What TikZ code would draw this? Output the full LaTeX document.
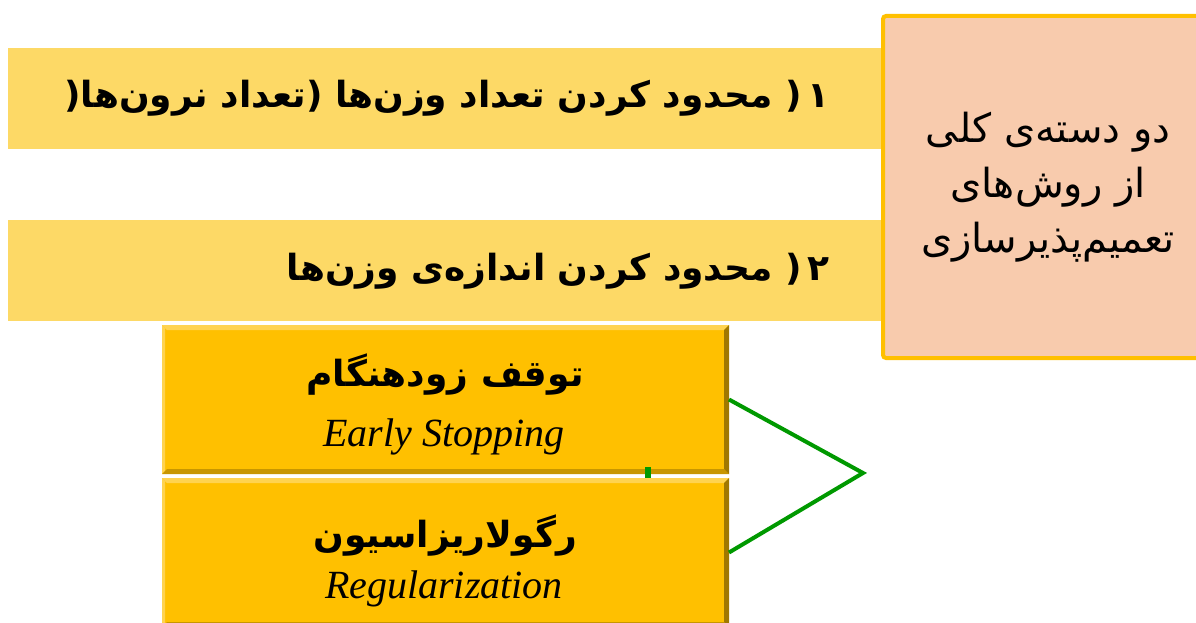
\documentclass[tikz,border=0pt]{standalone}
\usepackage{fontspec}
\setmainfont{Liberation Serif}
\newfontfamily\fa[Script=Arabic]{DejaVu Sans}
\TeXXeTstate=1
\usetikzlibrary{calc}

\definecolor{bandfill}{RGB}{253,217,102}
\definecolor{goldfill}{RGB}{255,192,0}
\definecolor{goldlight}{RGB}{255,211,80}
\definecolor{golddark}{RGB}{160,120,0}
\definecolor{goldmid}{RGB}{200,150,0}
\definecolor{peach}{RGB}{248,203,173}
\definecolor{linkgreen}{RGB}{0,153,0}

\tikzset{
  band/.style={fill=bandfill, draw=none, inner sep=0pt, outer sep=0pt, anchor=north west},
  goldbox/.style={fill=goldfill, draw=none, inner sep=0pt, outer sep=0pt, anchor=north west,
    minimum width=567pt, minimum height=149pt},
  catbox/.style={fill=peach, draw=goldfill, line width=4pt, rounded corners=3pt,
    inner sep=0pt, anchor=north west, align=center},
  bandtext/.style={anchor=base east, inner sep=0pt, font=\fa\bfseries\fontsize{36}{40}\selectfont},
  fatext/.style={anchor=base, inner sep=0pt, font=\fa\bfseries\fontsize{36}{40}\selectfont},
  entext/.style={anchor=base, inner sep=0pt, font=\itshape\fontsize{40}{44}\selectfont},
  conn/.style={draw=linkgreen, line width=4pt},
}

\begin{document}
\begin{tikzpicture}[x=1pt,y=-1pt]
\clip (0,0) rectangle (1196,623);
\fill[white] (0,0) rectangle (1196,623);

% the two light bands with the method families
\node[band, minimum width=873pt, minimum height=101pt] (band1) at (8,48) {};
\node[band, minimum width=873pt, minimum height=101pt] (band2) at (8,220) {};
\node[bandtext] (band1text) at (830,108)
  {\beginR ۱\,\hbox{(}\ محدود کردن تعداد وزن‌ها \hbox{(}تعداد نرون‌ها\hbox{(}\endR};
\node[bandtext] (band2text) at (830,280)
  {\beginR ۲\,\hbox{(}\ محدود کردن اندازه‌ی وزن‌ها\endR};

% category box on the right
\node[catbox, minimum width=330pt, minimum height=342pt,
      font=\fa\fontsize{40}{55}\selectfont] (cat) at (881,14)
  {\beginR دو دسته‌ی کلی\endR\\ \beginR از روش‌های\endR\\ \beginR تعمیم‌پذیرسازی\endR};

% bevelled gold boxes
\node[goldbox] (early) at (162,325) {};
\node[goldbox] (reg) at (162,478) {};
\foreach \b in {early,reg}{
  \fill[goldlight] (\b.north west) -- (\b.north east) -- ($(\b.north east)+(-5,5)$)
    -- ($(\b.north west)+(5,5)$) -- cycle;
  \fill[goldlight] (\b.north west) -- (\b.south west) -- ($(\b.south west)+(3,-3)$)
    -- ($(\b.north west)+(3,3)$) -- cycle;
  \fill[goldmid] (\b.south west) -- (\b.south east) -- ($(\b.south east)+(-5,-5)$)
    -- ($(\b.south west)+(5,-5)$) -- cycle;
  \fill[golddark] (\b.north east) -- (\b.south east) -- ($(\b.south east)+(-5,-5)$)
    -- ($(\b.north east)+(-5,5)$) -- cycle;
}
\node[fatext] (earlyfa) at (445,386) {\beginR توقف زودهنگام\endR};
\node[entext] (earlyen) at (444,446) {Early Stopping};
\node[fatext] (regfa) at (445,547) {\beginR رگولاریزاسیون\endR};
\node[entext] (regen) at (444,598) {Regularization};

% green bracket joining the two boxes
\coordinate (apex) at (863,473);
\draw[conn] (early.east) -- (apex) -- (reg.east);
\fill[linkgreen] (645,467) rectangle (651,478);
\end{tikzpicture}
\end{document}
